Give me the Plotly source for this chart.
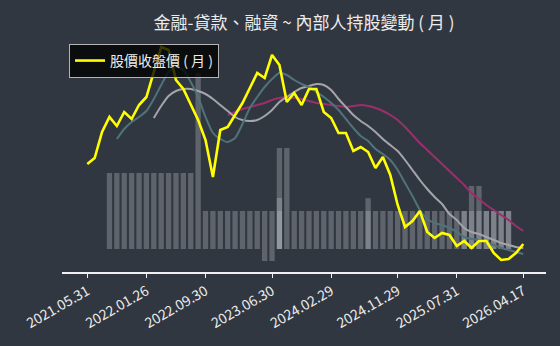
import plotly.graph_objects as go

# ---------------- data ----------------
dates = [
    "2021.05.31", "2021.06.30", "2021.07.30", "2021.08.31", "2021.09.30", "2021.10.29",
    "2021.11.30", "2021.12.30", "2022.01.26", "2022.02.25", "2022.03.31", "2022.04.29",
    "2022.05.31", "2022.06.30", "2022.07.29", "2022.08.31", "2022.09.30", "2022.10.31",
    "2022.11.30", "2022.12.30", "2023.01.30", "2023.02.24", "2023.03.31", "2023.04.28",
    "2023.05.31", "2023.06.30", "2023.07.31", "2023.08.31", "2023.09.28", "2023.10.31",
    "2023.11.30", "2023.12.29", "2024.01.31", "2024.02.29", "2024.03.29", "2024.04.30",
    "2024.05.31", "2024.06.28", "2024.07.31", "2024.08.30", "2024.09.30", "2024.10.30",
    "2024.11.29", "2024.12.31", "2025.01.22", "2025.02.27", "2025.03.31", "2025.04.30",
    "2025.05.29", "2025.06.30", "2025.07.31", "2025.08.29", "2025.09.30", "2025.10.31",
    "2025.11.28", "2025.12.31", "2026.01.30", "2026.02.26", "2026.03.31", "2026.04.17",
]

tick_labels = ["2021.05.31", "2022.01.26", "2022.09.30", "2023.06.30",
               "2024.02.29", "2024.11.29", "2025.07.31", "2026.04.17"]

close_price = [136, 142, 168, 183, 174, 188, 181, 195, 203, 228,
               253, 250, 220, 211, 196, 180, 160, 123, 170, 173,
               185, 197, 212, 227, 222, 245, 235, 198, 207, 195,
               211, 211, 188, 182, 167, 167, 149, 153, 148, 132,
               143, 125, 95, 73, 79, 89, 68, 62, 67, 65,
               54, 59, 52, 59, 59, 47, 40, 41, 47, 56]

ma_short = [None, None, None, None, 161, 171, 178, 183, 189, 201,
            215, 228, 233, 230, 218, 203, 183, 167, 161, 158,
            162, 176, 192, 203, 213, 221, 227, 225, 220, 216,
            213, 208, 203, 197, 190, 181, 172, 164, 159, 151,
            146, 140, 130, 117, 104, 90, 81, 77, 75, 72,
            68, 63, 61, 60, 58, 55, 52, 50, 48, 46]

ma_mid = [None, None, None, None, None, None, None, None, None, 182,
          194, 204, 209, 211, 211, 209, 206, 201, 195, 189,
          183, 180, 179, 180, 184, 190, 198, 203, 208, 212,
          214, 216, 215, 210, 201, 193, 185, 179, 174, 168,
          161, 155, 149, 140, 130, 120, 111, 103, 96, 86,
          80, 72, 68, 66, 63, 60, 57, 55, 53, 52]

ma_long = [None, None, None, None, None, None, None, None, None, None,
           None, None, None, None, None, None, None, None, None, 185,
           188, 191, 193, 195, 197, 200, 202, 203, 202, 201,
           199, 197, 196, 195, 194, 193, 194, 195, 194, 192,
           189, 185, 180, 173, 165, 157, 150, 143, 136, 129,
           122, 115, 107, 101, 95, 90, 85, 80, 74, 69]

# insider holding bars (top / bottom of each bar)
hold_top = [None, None, None, 38, 38, 38, 38, 38, 38, 38,
            38, 38, 38, 38, 38, 88, 19, 19, 19, 19,
            19, 19, 19, 19, 19, 19, 50.5, 50.5, 19, 19,
            19, 19, 19, 19, 19, 19, 19, 19, 19, 19,
            19, 19, 19, 19, 19, 19, 19, 19, 19, 19,
            19, 19, 19, 19, 19, 19, 19, 19, None, None]
hold_base = [0, 0, 0, 0, 0, 0, 0, 0, 0, 0,
             0, 0, 0, 0, 0, 0, 0, 0, 0, 0,
             0, 0, 0, 0, -6, -6, 0, 0, 0, 0,
             0, 0, 0, 0, 0, 0, 0, 0, 0, 0,
             0, 0, 0, 0, 0, 0, 0, 0, 0, 0,
             0, 0, 0, 0, 0, 0, 0, 0, 0, 0]
hold_extra1 = [None, None, None, None, None, None, None, None, None, None,
               None, None, None, None, None, None, None, None, None, None,
               None, None, None, None, None, None, 25.5, None, None, None,
               None, None, None, None, None, None, None, None, 25.4, None,
               None, None, None, None, None, None, None, None, None, None,
               None, 19, 31.5, 31.5, 19, 19, 19, 19, None, None]
hold_extra2 = [None, None, None, None, None, None, None, None, None, None,
               None, None, None, None, None, None, None, None, None, None,
               None, None, None, None, None, None, 19, None, None, None,
               None, None, None, None, None, None, None, None, None, None,
               None, None, None, None, None, None, None, None, None, None,
               None, None, None, None, None, None, None, None, None, None]

# ---------------- styles ----------------
BG = "#313741"
BAR = "rgba(200,202,208,0.30)"
TXT = "#ececec"
FONT = "Noto Sans CJK TC"

fig = go.Figure()

main_len = [None if t is None else t - b for t, b in zip(hold_top, hold_base)]
fig.add_trace(go.Bar(x=dates, y=main_len, base=hold_base, marker=dict(color=BAR, line=dict(width=0)),
                     width=0.72, showlegend=False, hoverinfo="skip"))
fig.add_trace(go.Bar(x=dates, y=hold_extra1, marker=dict(color=BAR, line=dict(width=0)),
                     width=0.72, showlegend=False, hoverinfo="skip"))
fig.add_trace(go.Bar(x=dates, y=hold_extra2, marker=dict(color=BAR, line=dict(width=0)),
                     width=0.72, showlegend=False, hoverinfo="skip"))

fig.add_trace(go.Scatter(x=dates, y=ma_long, yaxis="y2", mode="lines",
                         line=dict(color="#9a2f6c", width=2, shape="spline", smoothing=0.6),
                         showlegend=False))
fig.add_trace(go.Scatter(x=dates, y=ma_mid, yaxis="y2", mode="lines",
                         line=dict(color="#a3a5aa", width=2, shape="spline", smoothing=0.6),
                         showlegend=False))
fig.add_trace(go.Scatter(x=dates, y=ma_short, yaxis="y2", mode="lines",
                         line=dict(color="#4f7378", width=2, shape="spline", smoothing=0.6),
                         showlegend=False))
fig.add_trace(go.Scatter(x=dates, y=close_price, yaxis="y2", mode="lines",
                         line=dict(color="#ffff00", width=2.6),
                         name="股價收盤價 ( 月 )", showlegend=True))

fig.update_layout(
    width=560, height=346,
    margin=dict(l=62, r=14, t=40, b=74, pad=0),
    paper_bgcolor=BG, plot_bgcolor=BG,
    font=dict(family=FONT, color=TXT, size=12),
    title=dict(text="金融-貸款、融資 ~ 內部人持股變動 ( 月 )", x=0.5, xanchor="center",
               xref="paper", y=(346 - 23) / 346, yref="container", yanchor="middle",
               font=dict(size=17, color=TXT, family=FONT)),
    barmode="overlay",
    showlegend=True,
    legend=dict(x=0.0145, y=0.983, xanchor="left", yanchor="top",
                bgcolor="rgba(0,0,0,0.78)", bordercolor="#b4b4b4", borderwidth=1,
                font=dict(size=14, color=TXT, family=FONT), itemwidth=30),
    xaxis=dict(type="category", range=[-3.42, 62.07], tickmode="array",
               tickvals=tick_labels, ticktext=tick_labels, tickangle=-30,
               ticks="outside", ticklen=4, tickcolor="#f0f0f0", tickwidth=1,
               showline=True, linecolor="#f0f0f0", linewidth=1.5,
               showgrid=False, zeroline=False,
               tickfont=dict(size=14, color=TXT, family=FONT)),
    yaxis=dict(range=[-11.5, 104.5], visible=False, showgrid=False, zeroline=False),
    yaxis2=dict(range=[28, 260], overlaying="y", visible=False, showgrid=False, zeroline=False),
)

fig.write_html("out.html")
